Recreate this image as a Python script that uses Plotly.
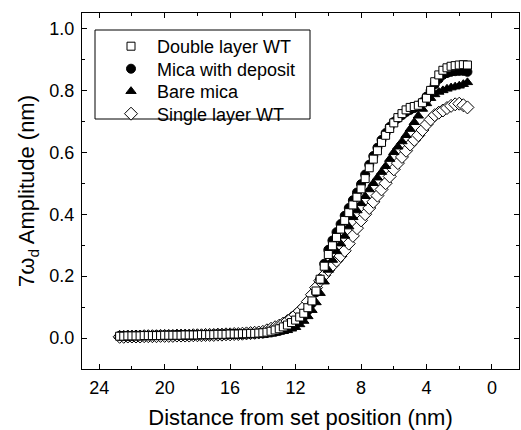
import plotly.graph_objects as go

distance = [22.75, 22.5, 22.25, 22.0, 21.75, 21.5, 21.25, 21.0, 20.75, 20.5, 20.25, 20.0,
            19.75, 19.5, 19.25, 19.0, 18.75, 18.5, 18.25, 18.0, 17.75, 17.5, 17.25, 17.0,
            16.75, 16.5, 16.25, 16.0, 15.75, 15.5, 15.25, 15.0, 14.75, 14.5, 14.25, 14.0,
            13.75, 13.5, 13.25, 13.0, 12.75, 12.5, 12.25, 12.0, 11.75, 11.5, 11.25, 11.0,
            10.75, 10.5, 10.25, 10.0, 9.75, 9.5, 9.25, 9.0, 8.75, 8.5, 8.25, 8.0,
            7.75, 7.5, 7.25, 7.0, 6.75, 6.5, 6.25, 6.0, 5.75, 5.5, 5.25, 5.0,
            4.75, 4.5, 4.25, 4.0, 3.75, 3.5, 3.25, 3.0, 2.75, 2.5, 2.25, 2.0, 1.75, 1.5]

double_layer = [0.006, 0.006, 0.007, 0.007, 0.007, 0.007, 0.008, 0.008, 0.008, 0.008, 0.008, 0.009,
                0.009, 0.009, 0.009, 0.009, 0.010, 0.010, 0.010, 0.010, 0.011, 0.011, 0.011, 0.011,
                0.012, 0.012, 0.012, 0.013, 0.013, 0.013, 0.014, 0.014, 0.015, 0.015, 0.016, 0.017,
                0.019, 0.022, 0.026, 0.030, 0.036, 0.042, 0.050, 0.058, 0.068, 0.080, 0.098, 0.120,
                0.152, 0.190, 0.232, 0.270, 0.298, 0.325, 0.352, 0.380, 0.405, 0.430, 0.455, 0.482,
                0.515, 0.550, 0.578, 0.605, 0.632, 0.655, 0.677, 0.695, 0.712, 0.725, 0.737, 0.745,
                0.748, 0.752, 0.760, 0.775, 0.800, 0.828, 0.850, 0.865, 0.873, 0.878, 0.880, 0.882, 0.883, 0.882]

mica_deposit = [0.007, 0.007, 0.007, 0.007, 0.008, 0.008, 0.008, 0.008, 0.008, 0.009, 0.009, 0.009,
                0.009, 0.009, 0.010, 0.010, 0.010, 0.010, 0.010, 0.011, 0.011, 0.011, 0.011, 0.012,
                0.012, 0.012, 0.012, 0.013, 0.013, 0.013, 0.013, 0.014, 0.014, 0.014, 0.015, 0.015,
                0.016, 0.018, 0.020, 0.023, 0.027, 0.031, 0.037, 0.045, 0.056, 0.070, 0.089, 0.112,
                0.148, 0.190, 0.240, 0.285, 0.315, 0.342, 0.368, 0.395, 0.420, 0.445, 0.470, 0.497,
                0.528, 0.560, 0.588, 0.615, 0.640, 0.662, 0.682, 0.698, 0.710, 0.720, 0.730, 0.737,
                0.743, 0.750, 0.762, 0.780, 0.800, 0.820, 0.837, 0.850, 0.856, 0.860, 0.862, 0.863, 0.863, 0.860]

bare_mica = [0.006, 0.006, 0.006, 0.007, 0.007, 0.007, 0.007, 0.007, 0.008, 0.008, 0.008, 0.008,
             0.008, 0.009, 0.009, 0.009, 0.009, 0.009, 0.010, 0.010, 0.010, 0.010, 0.010, 0.011,
             0.011, 0.011, 0.011, 0.012, 0.012, 0.012, 0.012, 0.013, 0.013, 0.013, 0.014, 0.014,
             0.015, 0.016, 0.018, 0.020, 0.022, 0.025, 0.030, 0.035, 0.044, 0.055, 0.070, 0.090,
             0.115, 0.145, 0.182, 0.220, 0.252, 0.280, 0.305, 0.330, 0.360, 0.390, 0.412, 0.435,
             0.458, 0.480, 0.500, 0.518, 0.536, 0.555, 0.578, 0.600, 0.618, 0.635, 0.655, 0.675,
             0.697, 0.718, 0.740, 0.758, 0.775, 0.787, 0.795, 0.800, 0.805, 0.809, 0.812, 0.815, 0.820, 0.826]

single_layer = [0.004, 0.004, 0.005, 0.005, 0.005, 0.005, 0.006, 0.006, 0.006, 0.006, 0.007, 0.007,
                0.007, 0.007, 0.008, 0.008, 0.008, 0.008, 0.009, 0.009, 0.009, 0.010, 0.010, 0.010,
                0.011, 0.011, 0.012, 0.012, 0.013, 0.013, 0.014, 0.015, 0.016, 0.017, 0.018, 0.020,
                0.025, 0.030, 0.035, 0.040, 0.047, 0.055, 0.064, 0.075, 0.087, 0.100, 0.118, 0.140,
                0.163, 0.185, 0.203, 0.220, 0.235, 0.250, 0.265, 0.282, 0.305, 0.330, 0.355, 0.380,
                0.400, 0.420, 0.440, 0.460, 0.480, 0.500, 0.522, 0.545, 0.565, 0.585, 0.605, 0.625,
                0.640, 0.655, 0.672, 0.690, 0.706, 0.720, 0.728, 0.735, 0.743, 0.750, 0.755, 0.757, 0.752, 0.745]

x_ticks = [24, 20, 16, 12, 8, 4, 0]
y_ticks = [0.0, 0.2, 0.4, 0.6, 0.8, 1.0]

FONT = "Liberation Sans, Arial, sans-serif"
W, H = 521, 430
ML, MR, MT, MB = 82, 2, 13, 61
PW, PH = W - ML - MR, H - MT - MB

def px_x(p):
    return (p - ML) / PW

def px_y(p):
    return (H - MB - p) / PH

fig = go.Figure()

def add(name, y, symbol, fill, size, legend_id):
    fig.add_trace(go.Scatter(
        x=distance, y=y, mode="markers", name=name, legend=legend_id,
        marker=dict(symbol=symbol, size=size, color=fill,
                    line=dict(color="black", width=1)),
    ))

add("Single layer WT", single_layer, "diamond", "white", 10, "legend4")
add("Bare mica", bare_mica, "triangle-up", "black", 9, "legend3")
add("Mica with deposit", mica_deposit, "circle", "black", 9, "legend2")
add("Double layer WT", double_layer, "square", "white", 8, "legend")

axis_common = dict(
    showline=True, linecolor="black", linewidth=1, mirror="allticks",
    ticks="inside", ticklen=5, tickwidth=1, tickcolor="black",
    showgrid=False, zeroline=False, automargin=False,
    tickfont=dict(family=FONT, size=18, color="black"),
)

fig.update_xaxes(
    range=[25.05, -1.65], tickvals=x_ticks, ticklabelstandoff=2,
    minor=dict(dtick=2, ticks="inside", ticklen=3, tickcolor="black", showgrid=False),
    title=dict(text="Distance from set position (nm)", font=dict(family=FONT, size=22, color="black"), standoff=18),
    **axis_common,
)
fig.update_yaxes(
    range=[-0.1, 1.05], tickvals=y_ticks, tickformat=".1f", ticklabelstandoff=3,
    minor=dict(dtick=0.1, ticks="inside", ticklen=3, tickcolor="black", showgrid=False),
    title=dict(text="7ω<sub>d</sub> Amplitude (nm)", font=dict(family=FONT, size=22, color="black"), standoff=8),
    **axis_common,
)

fig.add_shape(type="rect", xref="paper", yref="paper",
              x0=px_x(95), x1=px_x(310), y0=px_y(119), y1=px_y(30),
              line=dict(color="black", width=1), fillcolor="rgba(0,0,0,0)")

def legend_at(row_y):
    return dict(x=px_x(105), y=px_y(row_y), xanchor="left", yanchor="middle",
                bgcolor="rgba(0,0,0,0)", borderwidth=0, itemwidth=42,
                font=dict(family=FONT, size=18, color="black"))

fig.update_layout(
    width=W, height=H,
    margin=dict(l=ML, r=MR, t=MT, b=MB, autoexpand=False),
    paper_bgcolor="white", plot_bgcolor="white",
    showlegend=True,
    legend=legend_at(46.5),
    legend2=legend_at(69),
    legend3=legend_at(91.5),
    legend4=legend_at(114),
)

fig.write_html("out.html", config={"displayModeBar": False},
               post_script="document.body.style.margin='0';document.body.style.padding='0';")
